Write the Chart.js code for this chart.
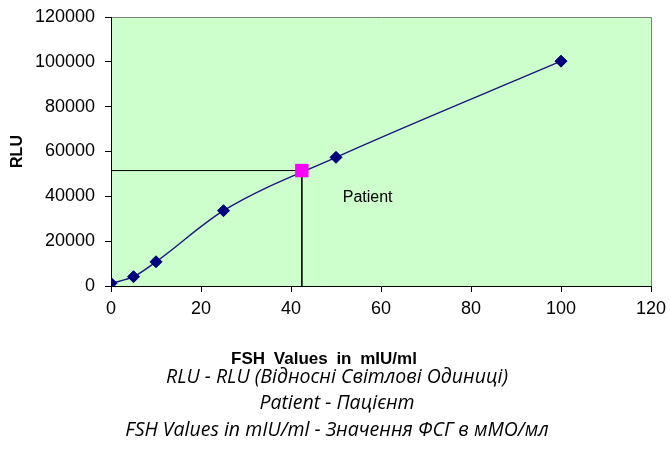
<!DOCTYPE html>
<html>
<head>
<meta charset="utf-8">
<script src="https://cdn.jsdelivr.net/npm/chart.js@4"></script>
<style>
  html, body { margin: 0; padding: 0; background: #fff; }
  #wrap { position: relative; width: 670px; height: 450px; }
  #chart { position: absolute; left: 0; top: 0; }
  .xtitle {
    position: absolute; left: 224px; top: 348.5px; width: 200px; text-align: center;
    font: bold 17px "Liberation Sans", Arial, sans-serif; word-spacing: 4px; color: #000;
  }
  .notes {
    position: absolute; left: 0; top: 362.5px; width: 674px; text-align: center;
    font: italic 19.5px "Open Sans", sans-serif; line-height: 26.5px; color: #000;
  }
</style>
</head>
<body>
<div id="wrap">
  <canvas id="chart" width="670" height="450"></canvas>
  <div class="xtitle">FSH Values in mIU/ml</div>
  <div class="notes">
    RLU - RLU (Відносні Світлові Одиниці)<br>
    Patient - Пацієнт<br>
    FSH Values in mIU/ml - Значення ФСГ в мМО/мл
  </div>
</div>
<script>
// standard curve
const fshValues = [0, 5, 10, 25, 50, 100];
const rluValues = [1200, 4150, 10800, 33600, 57400, 100300];

// patient reading
const patientFsh = 42.4;
const patientRlu = 51500;

const xTicks = [0, 20, 40, 60, 80, 100, 120];
const yTicks = [0, 20000, 40000, 60000, 80000, 100000, 120000];

const navy = "#000080";

// green plot area + grey frame on top/right
const plotBg = {
    id: "plotBg",
    beforeDraw(chart) {
        const a = chart.chartArea;
        const ctx = chart.ctx;
        ctx.save();
        ctx.fillStyle = "#CCFFCC";
        ctx.fillRect(a.left, a.top, a.right - a.left, a.bottom - a.top);
        ctx.strokeStyle = "#808080";
        ctx.lineWidth = 1;
        ctx.beginPath();
        ctx.moveTo(a.left, a.top + 0.5);
        ctx.lineTo(a.right + 0.5, a.top + 0.5);
        ctx.lineTo(a.right + 0.5, a.bottom);
        ctx.stroke();
        ctx.restore();
    }
};

// "Patient" label placed in data coordinates
const patientLabel = {
    id: "patientLabel",
    afterDatasetsDraw(chart) {
        const x = chart.scales.x.getPixelForValue(51.5);
        const y = chart.scales.y.getPixelForValue(39300);
        const ctx = chart.ctx;
        ctx.save();
        ctx.font = "16px 'Liberation Sans', Arial, sans-serif";
        ctx.fillStyle = "#000";
        ctx.textBaseline = "middle";
        ctx.fillText("Patient", x, y);
        ctx.restore();
    }
};

const tickFont = { family: "'Liberation Sans', Arial, sans-serif", size: 18 };

new Chart(document.getElementById("chart"), {
    type: "scatter",
    data: {
        datasets: [
            {
                label: "Patient",
                data: [{ x: patientFsh, y: patientRlu }],
                pointStyle: "rect",
                pointRadius: 9.5,
                pointBackgroundColor: "#FF00FF",
                pointBorderColor: "#FF00FF",
                pointBorderWidth: 0,
                order: 0
            },
            {
                label: "Standards",
                data: fshValues.map((v, i) => ({ x: v, y: rluValues[i] })),
                showLine: true,
                cubicInterpolationMode: "monotone",
                borderColor: "#1a1a80",
                borderWidth: 1.5,
                pointStyle: "rectRot",
                pointRadius: 6,
                pointBackgroundColor: navy,
                pointBorderColor: navy,
                pointBorderWidth: 1,
                order: 1
            },
            {
                label: "Guide",
                data: [
                    { x: 0, y: patientRlu },
                    { x: patientFsh, y: patientRlu },
                    { x: patientFsh, y: 0 }
                ],
                showLine: true,
                tension: 0,
                borderColor: "#000",
                borderWidth: 1,
                pointRadius: 0,
                order: 2
            }
        ]
    },
    options: {
        responsive: false,
        animation: false,
        layout: { padding: { left: 8, top: 17, right: 19, bottom: 0 } },
        plugins: {
            legend: { display: false },
            tooltip: { enabled: false }
        },
        scales: {
            x: {
                type: "linear",
                min: 0,
                max: 120,
                afterBuildTicks: s => { s.ticks = xTicks.map(v => ({ value: v })); },
                afterFit: s => { s.height = 164; s.paddingLeft = 0; s.paddingRight = 0; },
                ticks: { color: "#000", font: tickFont, padding: 6, callback: v => String(v) },
                grid: { drawOnChartArea: false, drawTicks: true, tickLength: 6, color: "#000" },
                border: { color: "#000", width: 1 }
            },
            y: {
                type: "linear",
                min: 0,
                max: 120000,
                afterBuildTicks: s => { s.ticks = yTicks.map(v => ({ value: v })); },
                afterFit: s => { s.width = 103; s.paddingTop = 0; s.paddingBottom = 0; },
                ticks: { color: "#000", font: tickFont, padding: 10, callback: v => String(v) },
                grid: { drawOnChartArea: false, drawTicks: true, tickLength: 6, color: "#000" },
                border: { color: "#000", width: 1 },
                title: {
                    display: true,
                    text: "RLU",
                    color: "#000",
                    font: { family: "'Liberation Sans', Arial, sans-serif", size: 16, weight: "bold" },
                    padding: 0
                }
            }
        }
    },
    plugins: [plotBg, patientLabel]
});
</script>
</body>
</html>
